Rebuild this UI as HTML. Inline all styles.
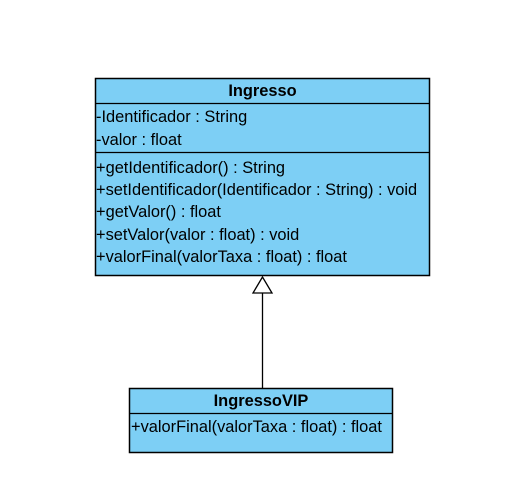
<!DOCTYPE html>
<html><head><style>
body{margin:0;width:522px;height:496px;background:#fff;position:relative;font-family:"Liberation Sans",Arial,sans-serif;}
.t{position:absolute;font-size:16.4px;line-height:22px;color:#000;white-space:nowrap}
</style></head><body>
<svg width="522" height="496" style="position:absolute;left:0;top:0">
<rect x="95.5" y="78.5" width="334" height="197" fill="#7dcff5" stroke="#000" stroke-width="1.5"/>
<line x1="95" y1="103.5" x2="430" y2="103.5" stroke="#000" stroke-width="1.2"/>
<line x1="95" y1="152.5" x2="430" y2="152.5" stroke="#000" stroke-width="1.2"/>
<rect x="129.5" y="388.5" width="263" height="64" fill="#7dcff5" stroke="#000" stroke-width="1.5"/>
<line x1="129" y1="413.5" x2="393" y2="413.5" stroke="#000" stroke-width="1.2"/>
<line x1="262.5" y1="293" x2="262.5" y2="388" stroke="#000" stroke-width="1.3"/>
<polygon points="262.5,277 253,293 272,293" fill="#fff" stroke="#000" stroke-width="1.3"/>
</svg>
<div class="t" style="left:95px;width:335px;text-align:center;top:80px;font-weight:bold">Ingresso</div>
<div class="t" style="left:96px;top:106px">-Identificador : String</div>
<div class="t" style="left:96px;top:129px">-valor : float</div>
<div class="t" style="left:96px;top:157px">+getIdentificador() : String</div>
<div class="t" style="left:96px;top:179px">+setIdentificador(Identificador : String) : void</div>
<div class="t" style="left:96px;top:201px">+getValor() : float</div>
<div class="t" style="left:96px;top:224px">+setValor(valor : float) : void</div>
<div class="t" style="left:96px;top:246px">+valorFinal(valorTaxa : float) : float</div>
<div class="t" style="left:129px;width:264px;text-align:center;top:390px;font-weight:bold">IngressoVIP</div>
<div class="t" style="left:131px;top:416px">+valorFinal(valorTaxa : float) : float</div>
</body></html>
